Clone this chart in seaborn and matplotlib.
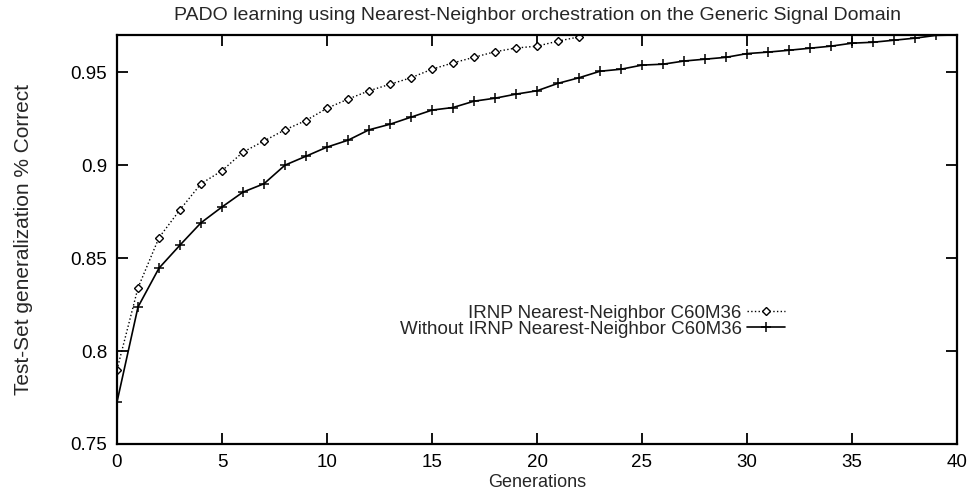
import numpy as np
import pandas as pd
import matplotlib
matplotlib.use("Agg")
import matplotlib.pyplot as plt
import seaborn as sns

title = "PADO learning using Nearest-Neighbor orchestration on the Generic Signal Domain"
xlabel = "Generations"
ylabel = "Test-Set generalization % Correct"
label_irnp = "IRNP Nearest-Neighbor C60M36"
label_without = "Without IRNP Nearest-Neighbor C60M36"

gen_irnp = list(range(0, 23))
acc_irnp = [0.790, 0.834, 0.861, 0.876, 0.890, 0.897, 0.907, 0.913, 0.919, 0.924,
            0.9306, 0.9355, 0.940, 0.9435, 0.947, 0.9516, 0.955, 0.958, 0.961, 0.963,
            0.964, 0.9667, 0.969]

gen_without = list(range(0, 41))
acc_without = [0.7726, 0.8237, 0.8446, 0.857, 0.869, 0.8775, 0.8855, 0.890, 0.900, 0.9048,
               0.9097, 0.9134, 0.919, 0.922, 0.9258, 0.9296, 0.931, 0.9344, 0.936, 0.9382,
               0.940, 0.944, 0.947, 0.9505, 0.9516, 0.9538, 0.9543, 0.956, 0.957, 0.958,
               0.960, 0.9608, 0.9618, 0.9629, 0.964, 0.9656, 0.9661, 0.9672, 0.9683, 0.9698,
               0.970]

xticks = [0, 5, 10, 15, 20, 25, 30, 35, 40]
yticks = [0.75, 0.8, 0.85, 0.9, 0.95]
ytick_labels = ["0.75", "0.8", "0.85", "0.9", "0.95"]

sns.set_style("ticks")
plt.rcParams['font.family'] = ['Liberation Sans', 'DejaVu Sans']

fig = plt.figure(figsize=(9.67, 4.92), dpi=100)
ax = fig.add_axes([117/967, 1 - 444/492, (957-117)/967, (444-35)/492])

df1 = pd.DataFrame({"x": gen_irnp, "y": acc_irnp})
df2 = pd.DataFrame({"x": gen_without, "y": acc_without})

sns.lineplot(data=df1, x="x", y="y", ax=ax, color="black", linestyle=":", linewidth=1.0,
             marker="D", markersize=4.5, markerfacecolor="white", markeredgecolor="black",
             markeredgewidth=1.0, label=label_irnp)
sns.lineplot(data=df2, x="x", y="y", ax=ax, color="black", linestyle="-", linewidth=1.2,
             marker="+", markersize=7.5, markeredgecolor="black", markeredgewidth=1.1,
             label=label_without)

ax.set_xlim(0, 40)
ax.set_ylim(0.75, 0.97)
ax.set_xticks(xticks)
ax.set_xticklabels([str(t) for t in xticks])
ax.set_yticks(yticks)
ax.set_yticklabels(ytick_labels)
ax.tick_params(direction="in", length=8, width=1.3, top=True, right=True,
               labelsize=13.5, colors="black", pad=7)
for s in ax.spines.values():
    s.set_linewidth(1.6)
    s.set_color("black")

ax.set_title(title, fontsize=14, pad=11)
ax.set_xlabel(xlabel, fontsize=13)
ax.xaxis.set_label_coords(0.5, -0.074)
ax.set_ylabel(ylabel, fontsize=15)
ax.yaxis.set_label_coords(-0.10, 0.5)

leg = ax.legend(loc="center right", bbox_to_anchor=(0.795, 0.30), frameon=False,
                markerfirst=False, fontsize=13.5, handlelength=2.0, handletextpad=0.3,
                labelspacing=-0.05, borderpad=0.0, borderaxespad=0.0)

fig.savefig("out.png", dpi=100)
